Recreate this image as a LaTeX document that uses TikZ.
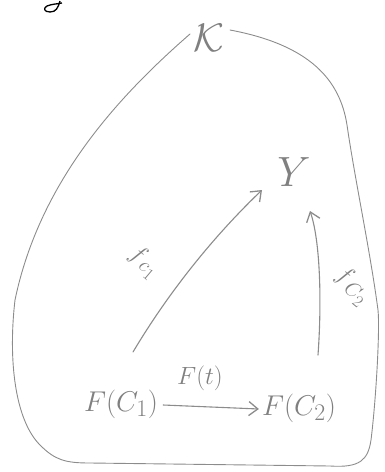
\documentclass[tikz,border=0pt]{standalone}
\usepackage{graphicx}
\usetikzlibrary{arrows.meta}
\begin{document}
\begin{tikzpicture}[x=1pt,y=-1pt,
  ink/.style={draw=gray!90!white, line width=1.1pt, line cap=round, line join=round},
  lbl/.style={text=gray, inner sep=1pt, font=\Huge},
  tip/.style={-{Straight Barb[length=9pt,width=14pt,line width=1.3pt]}}]
\useasboundingbox (0,0) rectangle (384,472);
% partial black glyph top-left
\draw[black, line width=1.3pt] (60,1) .. controls (58,8) and (56,12) .. (50,12) .. controls (44,12) and (43,8) .. (47,6) .. controls (52,4) and (57,4) .. (62,3);
% nodes
\node[lbl] (K) at (209,38) {\scalebox{1.6}{$\mathcal{K}$}};
\node[lbl] (Y) at (294,172) {\scalebox{1.7}{$Y$}};
\node[lbl] (FC1) at (121,404) {\scalebox{1.15}{$F(C_1)$}};
\node[lbl] (FC2) at (299,408) {\scalebox{1.15}{$F(C_2)$}};
\node[lbl] (Ft) at (200,378) {$F(t)$};
\node[lbl, rotate=-40] (fc1) at (144,262) {$f_{\,c_1}$};
\node[lbl, rotate=-40] (fc2) at (352,286) {$f_{\,C_2}$};
% blob
\coordinate (b0) at (190,34);
\coordinate (b1) at (230,30);
\draw[ink, line width=0.9pt] (b0) .. controls (120,95) and (40,180) .. (15,300)
  .. controls (8,360) and (15,420) .. (40,445)
  .. controls (55,460) and (65,463) .. (90,463)
  -- (330,466) .. controls (360,468) and (368,460) .. (371,440)
  .. controls (376,400) and (380,330) .. (378,310)
  .. controls (370,250) and (355,180) .. (347,125)
  .. controls (340,80) and (310,45) .. (b1);
% arrows
\coordinate (s1) at (133,352);
\coordinate (e1) at (262,190);
\draw[ink, tip] (s1) .. controls (170,290) and (215,235) .. (e1);
\coordinate (s2) at (318,355);
\coordinate (e2) at (310,211);
\draw[ink, tip] (s2) .. controls (322,300) and (320,240) .. (e2);
\draw[ink, tip] ([xshift=4pt,yshift=-1pt]FC1.east) -- ([xshift=-2pt,yshift=-1pt]FC2.west);
\end{tikzpicture}
\end{document}
